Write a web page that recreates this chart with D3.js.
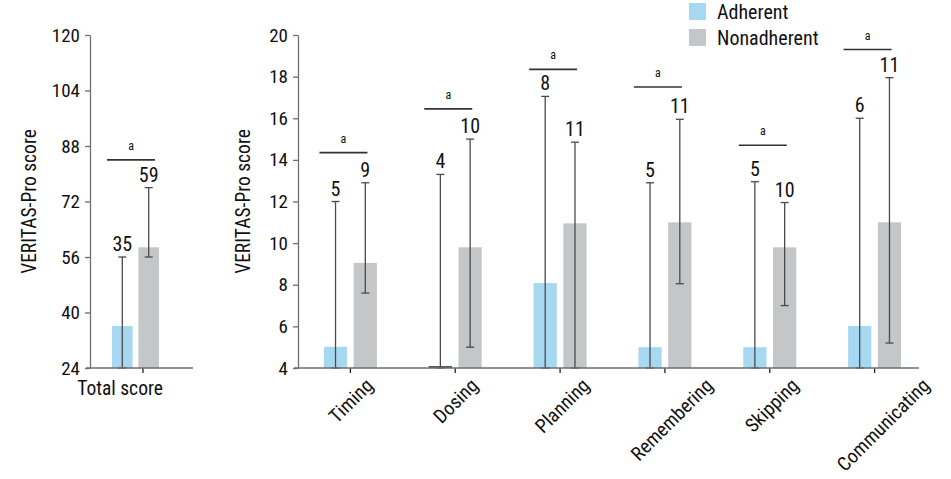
<!DOCTYPE html>
<html>
<head>
<meta charset="utf-8">
<script src="https://cdn.jsdelivr.net/npm/d3@7"></script>
<style>
  html, body { margin: 0; padding: 0; background: #fff; }
  svg { display: block; }
  text { font-family: "Liberation Sans Narrow", "Roboto Condensed", "DejaVu Sans Condensed", "Liberation Sans", sans-serif; fill: #111; }
</style>
</head>
<body>
<svg id="chart" width="951" height="479"></svg>
<script>
// ---------- data ----------
const totalCategory = ["Total score"];
const totalAdherent = [36.1];
const totalNonadherent = [58.8];
const totalAdherentLow = [24];
const totalAdherentHigh = [56];
const totalNonadherentLow = [56];
const totalNonadherentHigh = [76];
const totalAdherentLabels = ["35"];
const totalNonadherentLabels = ["59"];
const totalSigLevel = [84];
const totalTicks = [24, 40, 56, 72, 88, 104, 120];

const categories = ["Timing", "Dosing", "Planning", "Remembering", "Skipping", "Communicating"];
const adherent = [5.02, 4.0, 8.08, 5.0, 5.0, 6.02];
const nonadherent = [9.05, 9.8, 10.95, 11.0, 9.8, 11.0];
const adherentLow = [4, 4, 4, 4, 4, 4];
const adherentHigh = [12.0, 13.3, 17.05, 12.9, 12.95, 16.0];
const nonadherentLow = [7.6, 5.0, 4.0, 8.05, 7.0, 5.2];
const nonadherentHigh = [12.9, 15.0, 14.85, 15.95, 11.95, 17.95];
const adherentLabels = ["5", "4", "8", "5", "5", "6"];
const nonadherentLabels = ["9", "10", "11", "11", "10", "11"];
const sigLevel = [14.35, 16.45, 18.35, 17.5, 14.7, 19.3];
const subTicks = [4, 6, 8, 10, 12, 14, 16, 18, 20];

const groups = ["Adherent", "Nonadherent"];
const sigMark = "a";
const yTitle = "VERITAS-Pro score";

// ---------- styles ----------
const colors = { Adherent: "#a6d9f1", Nonadherent: "#c5c6c8" };
const axisColor = "#6e6e6e";
const errColor = "#4a4a4a";

const svg = d3.select("#chart");

function buildRows(cats, a, n, aLo, aHi, nLo, nHi, aLab, nLab) {
  return cats.map((c, i) => ({
    cat: c,
    bars: [
      { g: "Adherent", v: a[i], lo: aLo[i], hi: aHi[i], lab: aLab[i] },
      { g: "Nonadherent", v: n[i], lo: nLo[i], hi: nHi[i], lab: nLab[i] }
    ]
  }));
}

function drawPanel(cfg) {
  const { rows, yDomain, ticks, xRange, inner, axisX, axisStart, axisEnd, sigLevels, sigShift, sigHalf, rotateLabels, titleX } = cfg;
  const top = 35, bottom = 368;
  const y = d3.scaleLinear().domain(yDomain).range([bottom, top]);
  const x = d3.scaleBand().domain(rows.map(r => r.cat)).range(xRange).paddingInner(0).paddingOuter(0);
  const xi = d3.scaleBand().domain(groups).range(inner).paddingInner(0.22);
  const g = svg.append("g");

  // bars
  const grp = g.selectAll("g.cat").data(rows).join("g")
    .attr("transform", d => `translate(${x(d.cat) + x.bandwidth() / 2},0)`);
  grp.selectAll("rect").data(d => d.bars).join("rect")
    .attr("x", d => xi(d.g))
    .attr("width", xi.bandwidth())
    .attr("y", d => y(d.v))
    .attr("height", d => Math.max(0, y(yDomain[0]) - y(d.v)))
    .attr("fill", d => colors[d.g]);

  // zero-height bar marks
  grp.selectAll("line.zero").data(d => d.bars.filter(b => b.v <= yDomain[0])).join("line")
    .attr("x1", d => xi(d.g)).attr("x2", d => xi(d.g) + xi.bandwidth())
    .attr("y1", y(yDomain[0]) - 1).attr("y2", y(yDomain[0]) - 1)
    .attr("stroke", "#222").attr("stroke-width", 1.5);

  // error bars
  const eb = grp.selectAll("g.err").data(d => d.bars).join("g")
    .attr("transform", d => `translate(${xi(d.g) + xi.bandwidth() / 2},0)`);
  eb.append("line").attr("x1", 0).attr("x2", 0)
    .attr("y1", d => y(d.lo)).attr("y2", d => y(d.hi))
    .attr("stroke", errColor).attr("stroke-width", 1.3);
  eb.append("line").attr("x1", -4).attr("x2", 4)
    .attr("y1", d => y(d.hi)).attr("y2", d => y(d.hi))
    .attr("stroke", errColor).attr("stroke-width", 1.3);
  eb.append("line").attr("x1", -4).attr("x2", 4)
    .attr("y1", d => y(d.lo)).attr("y2", d => y(d.lo))
    .attr("stroke", errColor).attr("stroke-width", 1.3);
  eb.append("text")
    .attr("x", 0).attr("y", d => y(d.hi) - 6)
    .attr("text-anchor", "middle")
    .attr("font-size", 20)
    .text(d => d.lab);

  // significance lines
  grp.each(function (d, i) {
    const s = d3.select(this);
    const yy = y(sigLevels[i]);
    s.append("line").attr("x1", sigShift - sigHalf).attr("x2", sigShift + sigHalf)
      .attr("y1", yy).attr("y2", yy).attr("stroke", "#333").attr("stroke-width", 1.6);
    s.append("text").attr("x", sigShift).attr("y", yy - 10)
      .attr("text-anchor", "middle").attr("font-size", 12).text(sigMark);
  });

  // y axis
  const yAxis = d3.axisLeft(y).tickValues(ticks).tickSize(5).tickPadding(5).tickSizeOuter(0);
  const ya = g.append("g").attr("transform", `translate(${axisX},0)`).call(yAxis);
  ya.select(".domain").attr("stroke", axisColor).attr("stroke-width", 1.3);
  ya.selectAll(".tick line").attr("stroke", axisColor).attr("stroke-width", 1.3);
  ya.selectAll(".tick text").attr("font-size", 19).attr("fill", "#111")
    .attr("font-family", null);

  // x axis
  const xAxis = d3.axisBottom(x).tickSize(5).tickSizeOuter(0).tickPadding(8);
  const xa = g.append("g").attr("transform", `translate(0,${bottom})`).call(xAxis);
  xa.select(".domain").remove();
  xa.append("line").attr("x1", axisStart).attr("x2", axisEnd).attr("y1", 0).attr("y2", 0)
    .attr("stroke", axisColor).attr("stroke-width", 1.5);
  xa.selectAll(".tick line").attr("stroke", "#222").attr("stroke-width", 1.3);
  const xt = xa.selectAll(".tick text").attr("font-size", 19.5).attr("fill", "#111").attr("font-family", null);
  if (rotateLabels) {
    xt.each(function () {
      const t = d3.select(this);
      const len = this.getComputedTextLength();
      const half = (len + 14) / (2 * Math.SQRT2);
      t.attr("y", null).attr("dy", "0.35em").attr("text-anchor", "middle")
        .attr("transform", `translate(${(len - 50) * 0.12},${9 + half}) rotate(-45)`);
    });
  } else {
    xt.attr("dy", "0.71em").attr("transform", `translate(${cfg.labelShift},0)`);
  }

  // y title
  g.append("text")
    .attr("transform", `translate(${titleX},${(top + bottom) / 2}) rotate(-90)`)
    .attr("text-anchor", "middle").attr("font-size", 19.5).text(yTitle);
}

drawPanel({
  rows: buildRows(totalCategory, totalAdherent, totalNonadherent, totalAdherentLow, totalAdherentHigh,
    totalNonadherentLow, totalNonadherentHigh, totalAdherentLabels, totalNonadherentLabels),
  yDomain: [24, 120], ticks: totalTicks,
  xRange: [90, 196], inner: [-31, 16],
  axisX: 90, axisStart: -4 + 90, axisEnd: 193,
  sigLevels: totalSigLevel, sigShift: -12, sigHalf: 24,
  rotateLabels: false, labelShift: -23, titleX: 36
});

drawPanel({
  rows: buildRows(categories, adherent, nonadherent, adherentLow, adherentHigh,
    nonadherentLow, nonadherentHigh, adherentLabels, nonadherentLabels),
  yDomain: [4, 20], ticks: subTicks,
  xRange: [298, 927], inner: [-26.5, 26.5],
  axisX: 298, axisStart: 294, axisEnd: 919,
  sigLevels: sigLevel, sigShift: -7, sigHalf: 24,
  rotateLabels: true, titleX: 250
});

// legend
const legend = svg.append("g").attr("transform", "translate(689,3)");
groups.forEach((k, i) => {
  legend.append("rect").attr("x", 0).attr("y", i * 26).attr("width", 17).attr("height", 17).attr("fill", colors[k]);
  legend.append("text").attr("x", 28).attr("y", i * 26 + 15.5).attr("font-size", 20).text(k);
});
</script>
</body>
</html>
